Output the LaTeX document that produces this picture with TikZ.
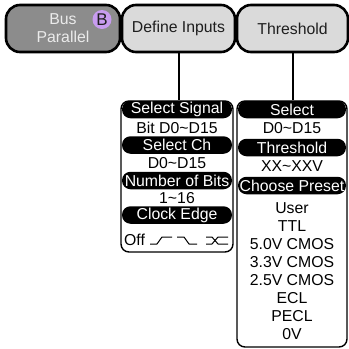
\documentclass[tikz,border=0pt]{standalone}
\usepackage{fontspec}
\setmainfont{Liberation Sans}
\definecolor{tabactive}{HTML}{8C8C8C}
\definecolor{tabidle}{HTML}{DADADA}
\definecolor{badgefill}{HTML}{C89CF0}
\definecolor{tabtext}{HTML}{1E1E1E}
\begin{document}
\begin{tikzpicture}[x=1pt,y=-1pt,
  txt/.style={font=\fontsize{15.8}{18}\selectfont},
  tab/.style={txt, draw=black, line width=2.6pt, rounded corners=14pt,
    minimum height=47pt, inner sep=0pt, text=tabtext, align=center},
  menubox/.style={draw=black, line width=1.4pt, rounded corners=8pt,
    inner sep=0pt, fill=white},
  pill/.style={txt, fill=black, text=white, rounded corners=8.5pt,
    minimum height=17.5pt, inner sep=0pt},
  item/.style={txt, inner sep=0pt, text=black},
  link/.style={draw=black, line width=2pt},
  edge sym/.style={draw=black, line width=1pt, line join=round}
]
\useasboundingbox (0,0) rectangle (349,349);

% top soft-key tabs
\node[tab, fill=tabactive, text=white!92!black, minimum width=114pt] (bus) at (63,28.5) {Bus\\Parallel};
\node[tab, fill=tabidle, minimum width=113pt] (def) at (178.5,28.5) {Define Inputs};
\node[tab, fill=tabidle, minimum width=111pt] (thr) at (292.5,28.5) {Threshold};
\node[circle, fill=badgefill, minimum size=19pt, inner sep=0pt, text=tabtext,
  font=\fontsize{17}{18}\selectfont] (badge) at (102,19.5) {B};

% sub-menus
\node[menubox, minimum width=112pt, minimum height=151pt] (lmenu) at (177,176.5) {};
\node[menubox, minimum width=110pt, minimum height=246pt] (rmenu) at (292,224) {};

\draw[link] (def.south) -- (def.south |- lmenu.north);
\draw[link] (thr.south) -- (thr.south |- rmenu.north);

% Define Inputs menu
\node[pill, minimum width=110pt] (selsig) at (177,109.5) {Select Signal};
\node[item] (bitd) at (177,128) {Bit D0\textasciitilde D15};
\node[pill, minimum width=110pt] (selch) at (177,145) {Select Ch};
\node[item] (chd) at (177,163) {D0\textasciitilde D15};
\node[pill, minimum width=110pt] (nbits) at (177,180.5) {Number of Bits};
\node[item] (nrange) at (177,198) {1\textasciitilde 16};
\node[pill, minimum width=110pt] (clk) at (177,215) {Clock Edge};
\node[item, anchor=west] (off) at (124,240) {Off};
% clock edge glyphs: rising, falling, either
\draw[edge sym] (150,244) -- (157,244) -- (162,237) -- (172,237);
\draw[edge sym] (177,237) -- (184,237) -- (189,244) -- (197,244);
\draw[edge sym] (206,237) -- (212,237) -- (218,244) -- (228,244);
\draw[edge sym] (206,244) -- (212,244) -- (218,237) -- (228,237);

% Threshold menu
\node[pill, minimum width=108pt] (sel) at (292,109.5) {Select};
\node[item] (seld) at (292,128) {D0\textasciitilde D15};
\node[pill, minimum width=108pt] (thrp) at (292,147.5) {Threshold};
\node[item] (thrv) at (292,166.5) {XX\textasciitilde XXV};
\node[pill, minimum width=108pt] (preset) at (292,185.5) {Choose Preset};
\node[item] (p1) at (292,208) {User};
\node[item] (p2) at (292,226) {TTL};
\node[item] (p3) at (292,244) {5.0V CMOS};
\node[item] (p4) at (292,262) {3.3V CMOS};
\node[item] (p5) at (292,280) {2.5V CMOS};
\node[item] (p6) at (292,298) {ECL};
\node[item] (p7) at (292,316) {PECL};
\node[item] (p8) at (292,334) {0V};
\end{tikzpicture}
\end{document}
